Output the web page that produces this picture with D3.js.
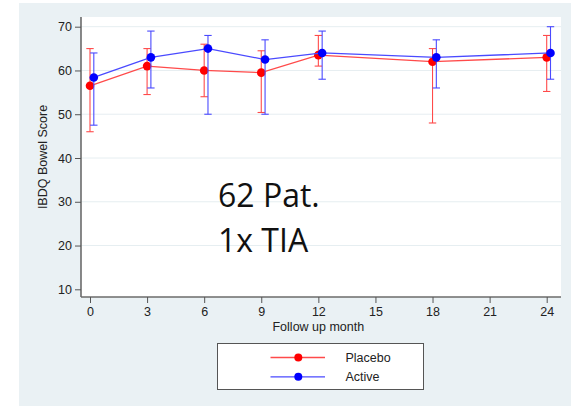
<!DOCTYPE html>
<html>
<head>
<meta charset="utf-8">
<script src="https://cdn.jsdelivr.net/npm/d3@7"></script>
<style>
  html, body { margin: 0; padding: 0; background: #ffffff; }
  svg { display: block; }
</style>
</head>
<body>
<script>
// Follow-up visits (months) and IBDQ bowel score per arm: mean with lower/upper bars
const months = [0, 3, 6, 9, 12, 18, 24];

const placeboMean  = [56.5, 61.0, 60.0, 59.5, 63.5, 62.0, 63.0];
const placeboLower = [46.0, 54.5, 54.0, 50.4, 61.0, 48.0, 55.2];
const placeboUpper = [65.0, 65.0, 66.0, 64.5, 68.0, 65.0, 68.0];

const activeMean  = [58.4, 63.0, 65.0, 62.5, 64.0, 63.0, 64.0];
const activeLower = [47.5, 56.0, 50.0, 50.0, 58.0, 56.0, 58.0];
const activeUpper = [64.0, 69.0, 68.0, 67.0, 69.0, 67.0, 70.0];

const xTicks = [0, 3, 6, 9, 12, 15, 18, 21, 24];
const yTicks = [10, 20, 30, 40, 50, 60, 70];

const seriesNames = ["Placebo", "Active"];
const annotationLines = ["62 Pat.", "1x TIA"];

const W = 571, H = 406;
const plot = { left: 81, right: 561, top: 17, bottom: 297 };

const svg = d3.select("body").append("svg")
  .attr("width", W).attr("height", H);

// outer graph region
svg.append("rect")
  .attr("x", 19).attr("y", 3).attr("width", W - 19).attr("height", H - 3)
  .attr("fill", "#eaf1f4");

// plot region
svg.append("rect")
  .attr("x", plot.left).attr("y", plot.top)
  .attr("width", plot.right - plot.left).attr("height", plot.bottom - plot.top)
  .attr("fill", "#ffffff");

const x = d3.scaleLinear().domain([0, 24]).range([90, 546.7]);
const y = d3.scaleLinear().domain([10, 70]).range([289.3, 26.7]);

// horizontal grid
svg.append("g")
  .selectAll("line")
  .data(yTicks.filter(v => v > 10))
  .join("line")
  .attr("x1", plot.left).attr("x2", plot.right)
  .attr("y1", d => y(d)).attr("y2", d => y(d))
  .attr("stroke", "#e6eef1").attr("stroke-width", 1);

const axisFont = "Liberation Sans, Arial, Helvetica, sans-serif";

// y axis
const yAxis = svg.append("g")
  .attr("transform", `translate(${plot.left},0)`)
  .call(d3.axisLeft(y).tickValues(yTicks).tickSize(6).tickPadding(3).tickSizeOuter(0));
yAxis.select(".domain").attr("d", `M0,${plot.top}V${plot.bottom}`);

// x axis
const xAxis = svg.append("g")
  .attr("transform", `translate(0,${plot.bottom})`)
  .call(d3.axisBottom(x).tickValues(xTicks).tickSize(6).tickPadding(4).tickSizeOuter(0));
xAxis.select(".domain").attr("d", `M${plot.left},0H${plot.right}`);

[yAxis, xAxis].forEach(g => {
  g.select(".domain").attr("stroke", "#6b6b6b").attr("stroke-width", 1.6);
  g.selectAll(".tick line").attr("stroke", "#555").attr("stroke-width", 1);
  g.selectAll(".tick text")
    .attr("fill", "#222")
    .style("font-family", axisFont)
    .style("font-size", "12.5px");
});

// axis titles
svg.append("text")
  .attr("x", (x(0) + x(24)) / 2).attr("y", 331)
  .attr("text-anchor", "middle")
  .style("font-family", axisFont).style("font-size", "12.5px").attr("fill", "#222")
  .text("Follow up month");

svg.append("text")
  .attr("transform", `translate(47,${(plot.top + plot.bottom) / 2}) rotate(-90)`)
  .attr("text-anchor", "middle")
  .style("font-family", axisFont).style("font-size", "12.5px").attr("fill", "#222")
  .text("IBDQ Bowel Score");

// series
const series = [
  { name: seriesNames[0], mean: placeboMean, lo: placeboLower, hi: placeboUpper,
    dot: "#ff0000", line: "#ff4a4a", dx: 0 },
  { name: seriesNames[1], mean: activeMean, lo: activeLower, hi: activeUpper,
    dot: "#0000ff", line: "#4a4aff", dx: 0.2 }
];

const lineGen = d3.line().x(d => x(d.m)).y(d => y(d.v));

series.forEach(s => {
  const pts = months.map((m, i) => ({ m: m + s.dx, v: s.mean[i], lo: s.lo[i], hi: s.hi[i] }));
  const g = svg.append("g");

  // error bars
  const eb = g.append("g").attr("stroke", s.line).attr("stroke-width", 1.1).attr("fill", "none");
  eb.selectAll("line.v").data(pts).join("line").attr("class", "v")
    .attr("x1", d => x(d.m)).attr("x2", d => x(d.m))
    .attr("y1", d => y(d.lo)).attr("y2", d => y(d.hi));
  eb.selectAll("line.t").data(pts).join("line").attr("class", "t")
    .attr("x1", d => x(d.m) - 3.7).attr("x2", d => x(d.m) + 3.7)
    .attr("y1", d => y(d.hi)).attr("y2", d => y(d.hi));
  eb.selectAll("line.b").data(pts).join("line").attr("class", "b")
    .attr("x1", d => x(d.m) - 3.7).attr("x2", d => x(d.m) + 3.7)
    .attr("y1", d => y(d.lo)).attr("y2", d => y(d.lo));

  // connecting line
  g.append("path").datum(pts)
    .attr("d", lineGen)
    .attr("fill", "none").attr("stroke", s.line).attr("stroke-width", 1.3);

  // markers
  g.selectAll("circle").data(pts).join("circle")
    .attr("cx", d => x(d.m)).attr("cy", d => y(d.v))
    .attr("r", 4.3).attr("fill", s.dot);
});

// annotation
const ann = svg.append("text")
  .style("font-family", "Open Sans, Noto Sans, sans-serif")
  .style("font-size", "32px").attr("fill", "#111");
annotationLines.forEach((t, i) => {
  ann.append("tspan").attr("x", 218).attr("y", 207 + i * 45).text(t);
});

// legend
const legend = svg.append("g");
legend.append("rect")
  .attr("x", 217.5).attr("y", 343.5).attr("width", 206).attr("height", 46)
  .attr("fill", "#ffffff").attr("stroke", "#555").attr("stroke-width", 1);

series.forEach((s, i) => {
  const ly = 357.5 + i * 19.3;
  legend.append("line")
    .attr("x1", 270.5).attr("x2", 325).attr("y1", ly).attr("y2", ly)
    .attr("stroke", s.line).attr("stroke-width", 1.3);
  legend.append("circle")
    .attr("cx", 298.3).attr("cy", ly).attr("r", 4).attr("fill", s.dot);
  legend.append("text")
    .attr("x", 345.5).attr("y", ly + 4.5)
    .style("font-family", axisFont).style("font-size", "12.5px").attr("fill", "#222")
    .text(s.name);
});
</script>
</body>
</html>
